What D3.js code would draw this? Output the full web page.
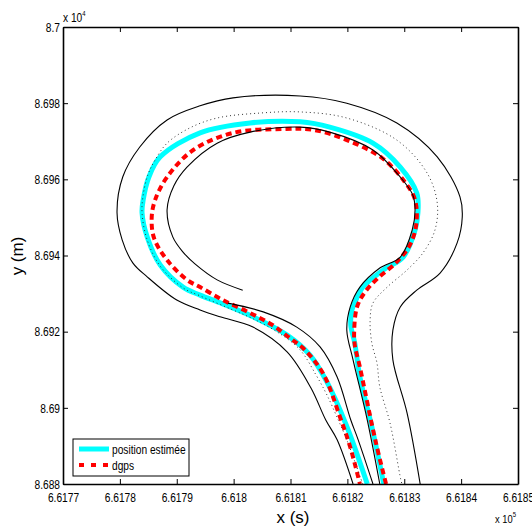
<!DOCTYPE html>
<html>
<head>
<meta charset="utf-8">
<script src="https://cdn.jsdelivr.net/npm/d3@7"></script>
<style>
  html, body { margin: 0; padding: 0; background: #fff; }
  svg { display: block; font-family: "Liberation Sans", Arial, Helvetica, sans-serif; }
</style>
</head>
<body>
<div id="chart"></div>
<script>
// ---------- data (x in m, y in m) ----------
const xTicks = [661770, 661780, 661790, 661800, 661810, 661820, 661830, 661840, 661850];
const xTickLabels = ["6.6177", "6.6178", "6.6179", "6.618", "6.6181", "6.6182", "6.6183", "6.6184", "6.6185"];
const yTicks = [86880, 86900, 86920, 86940, 86960, 86980, 87000];
const yTickLabels = ["8.688", "8.69", "8.692", "8.694", "8.696", "8.698", "8.7"];

const seriesNames = ["position estimée", "dgps"];

// estimated position (cyan)
const estimatedPos = [[661826.4,86880.0],[661824.3,86895.0],[661822.2,86908.1],[661821.3,86917.0],[661820.6,86921.7],[661820.8,86925.7],[661821.5,86928.3],[661822.7,86931.7],[661826.3,86936.2],[661829.8,86939.6],[661831.9,86946.7],[661832.4,86951.2],[661832.2,86956.4],[661829.3,86963.2],[661824.5,86969.5],[661816.9,86973.7],[661811.7,86975.1],[661802.9,86974.8],[661794.1,86972.2],[661787.1,86965.9],[661785.1,86960.6],[661784.1,86954.6],[661783.9,86951.2],[661784.8,86944.9],[661787.1,86937.5],[661791.1,86931.7],[661794.1,86929.6],[661798.1,86927.3],[661803.4,86923.9],[661809.4,86919.1],[661813.4,86913.9],[661816.4,86906.8],[661819.8,86895.5],[661823.5,86880.0]];

// dgps (red dashed)
const dgps = [[661826.8,86880.0],[661824.9,86891.6],[661822.2,86910.7],[661821.3,86916.5],[661821.2,86920.4],[661821.7,86926.5],[661823.1,86930.4],[661825.4,86934.1],[661828.7,86938.3],[661831.0,86942.8],[661832.1,86948.0],[661831.9,86954.6],[661830.1,86959.3],[661826.1,86965.6],[661819.9,86970.3],[661814.0,86973.0],[661808.7,86973.2],[661799.9,86972.2],[661792.9,86967.7],[661788.3,86960.6],[661786.2,86954.6],[661785.6,86950.1],[661786.0,86944.6],[661788.3,86938.8],[661791.8,86933.6],[661794.1,86931.7],[661798.1,86928.3],[661802.9,86924.9],[661806.9,86921.7],[661809.9,86918.3],[661812.2,86915.7],[661815.7,86909.1],[661818.7,86897.6],[661820.5,86889.7],[661822.2,86880.0]];

// road outer boundary (black)
const roadOuter = [[661821.0,86880.0],[661818.2,86891.6],[661816.2,86896.8],[661813.6,86905.2],[661809.4,86914.7],[661803.4,86921.2],[661797.6,86923.9],[661794.1,86925.7],[661790.0,86928.3],[661784.8,86934.4],[661782.3,86938.0],[661780.4,86944.1],[661779.5,86951.2],[661780.5,86960.6],[661783.5,86968.5],[661788.3,86975.6],[661794.1,86979.3],[661799.9,86981.4],[661811.7,86981.9],[661819.9,86980.0],[661828.7,86974.8],[661835.8,86965.9],[661839.8,86955.4],[661840.2,86950.1],[661839.3,86943.3],[661836.3,86935.4],[661832.2,86930.9],[661829.3,86926.5],[661828.0,86920.4],[661828.0,86912.6],[661830.5,86898.6],[661832.8,86880.0]];

// road inner boundary around the loop (black)
const roadInner = [[661825.7,86880.0],[661823.5,86896.8],[661821.0,86912.6],[661819.9,86920.4],[661820.5,86926.5],[661822.2,86931.7],[661825.7,86936.7],[661829.3,86939.6],[661831.4,86946.7],[661831.9,86952.0],[661831.5,86955.9],[661829.3,86960.6],[661824.5,86967.7],[661816.9,86972.4],[661811.7,86973.7],[661802.9,86972.4],[661797.1,86969.5],[661791.8,86963.2],[661789.5,86958.3],[661788.3,86952.0],[661789.3,86944.9],[661791.1,86940.9],[661793.2,86937.8],[661797.1,86933.6],[661801.6,86930.9]];

// road inner boundary of the entry branch (black)
const roadEntry = [[661799.0,86927.5],[661805.2,86925.2],[661811.1,86921.2],[661815.2,86916.0],[661818.2,86908.1],[661820.6,86896.8],[661821.9,86891.6],[661824.5,86880.0]];

// road centre line (dotted)
const roadCentre = [[661822.7,86880.0],[661819.9,86891.6],[661818.4,86896.8],[661816.4,86903.4],[661814.5,86908.6],[661811.7,86915.2],[661808.2,86919.4],[661803.8,86923.1],[661799.4,86926.0],[661794.1,86929.4],[661791.1,86931.5],[661787.1,86937.2],[661784.8,86944.1],[661783.9,86951.2],[661784.1,86955.9],[661784.9,86961.1],[661786.2,86965.1],[661788.3,86969.5],[661792.3,86973.5],[661797.1,86976.1],[661804.6,86977.4],[661811.7,86977.7],[661819.9,86976.1],[661828.7,86970.3],[661834.0,86961.7],[661835.8,86953.8],[661835.4,86946.7],[661833.3,86940.7],[661830.5,86936.2],[661827.0,86931.7],[661824.5,86927.5],[661824.0,86923.1],[661824.3,86917.0],[661825.2,86911.8],[661825.7,86905.5],[661827.5,86896.0],[661829.4,86881.1],[661829.6,86880.0]];

// ---------- layout ----------
const W = 532, H = 527;
const L = 63, R = 518, T = 27, B = 484;
const SX = 0.85; // horizontal squeeze of the small texts

const svg = d3.select("#chart").append("svg").attr("width", W).attr("height", H);

const x = d3.scaleLinear().domain([661770, 661850]).range([L, R]);
const y = d3.scaleLinear().domain([86880, 87000]).range([B, T]);

svg.append("defs").append("clipPath").attr("id", "clip")
  .append("rect").attr("x", L).attr("y", T).attr("width", R - L).attr("height", B - T);

const line = d3.line().x(d => x(d[0])).y(d => y(d[1])).curve(d3.curveCatmullRom.alpha(0.5));

const plot = svg.append("g").attr("clip-path", "url(#clip)");

plot.append("path").datum(estimatedPos).attr("d", line)
  .attr("fill", "none").attr("stroke", "#00ffff").attr("stroke-width", 5);
plot.append("path").datum(dgps).attr("d", line)
  .attr("fill", "none").attr("stroke", "#ff0000").attr("stroke-width", 4).attr("stroke-dasharray", "6,4");
[roadOuter, roadInner, roadEntry].forEach(s => {
  plot.append("path").datum(s).attr("d", line)
    .attr("fill", "none").attr("stroke", "#000").attr("stroke-width", 1.1);
});
plot.append("path").datum(roadCentre).attr("d", line)
  .attr("fill", "none").attr("stroke", "#333").attr("stroke-width", 1).attr("stroke-dasharray", "1,3");

// ---------- axes ----------
function styleAxis(g) {
  g.select(".domain").attr("stroke", "#000").attr("stroke-width", 1.6);
  g.selectAll(".tick line").attr("stroke", "#000").attr("stroke-width", 1);
  g.selectAll("text").attr("fill", "#000").attr("font-size", 12)
    .attr("font-family", '"Liberation Sans", Arial, sans-serif');
}

const xAxis = svg.append("g").attr("transform", `translate(0,${B})`)
  .call(d3.axisBottom(x).tickValues(xTicks).tickFormat((d, i) => xTickLabels[i])
    .tickSizeInner(-5).tickSizeOuter(0).tickPadding(9));
styleAxis(xAxis);
xAxis.selectAll("text").attr("transform", `scale(${SX},1)`);

const yAxis = svg.append("g").attr("transform", `translate(${L},0)`)
  .call(d3.axisLeft(y).tickValues(yTicks).tickFormat((d, i) => yTickLabels[i])
    .tickSizeInner(-5).tickSizeOuter(0).tickPadding(3));
styleAxis(yAxis);
yAxis.selectAll("text").attr("x", -3 / SX).attr("dy", "0.36em").attr("transform", `scale(${SX},1)`);

const xTop = svg.append("g").attr("transform", `translate(0,${T})`)
  .call(d3.axisTop(x).tickValues(xTicks).tickFormat("").tickSizeInner(-5).tickSizeOuter(0));
styleAxis(xTop);
const yRight = svg.append("g").attr("transform", `translate(${R},0)`)
  .call(d3.axisRight(y).tickValues(yTicks).tickFormat("").tickSizeInner(-5).tickSizeOuter(0));
styleAxis(yRight);

// exponent labels
const e4 = svg.append("text").attr("transform", `translate(63,22) scale(${SX},1)`)
  .attr("font-size", 12).attr("fill", "#000");
e4.append("tspan").text("x 10");
e4.append("tspan").attr("font-size", 7).attr("dy", -6).text("4");

const e5 = svg.append("text").attr("transform", `translate(495,523) scale(${SX},1)`)
  .attr("font-size", 11).attr("fill", "#000");
e5.append("tspan").text("x 10");
e5.append("tspan").attr("font-size", 7).attr("dy", -6).text("5");

// axis titles
svg.append("text").attr("x", 293).attr("y", 523).attr("text-anchor", "middle")
  .attr("font-size", 17).attr("fill", "#000").text("x (s)");
svg.append("text").attr("transform", "translate(23,256) rotate(-90)").attr("text-anchor", "middle")
  .attr("font-size", 17).attr("fill", "#000").text("y (m)");

// ---------- legend ----------
const leg = svg.append("g");
leg.append("rect").attr("x", 73).attr("y", 439).attr("width", 116).attr("height", 37)
  .attr("fill", "#fff").attr("stroke", "#000").attr("stroke-width", 1);
const legStyles = [
  { stroke: "#00ffff", width: 5, dash: null },
  { stroke: "#ff0000", width: 4, dash: "5,7" }
];
seriesNames.forEach((name, i) => {
  const yy = 449 + i * 16;
  leg.append("line").attr("x1", 79).attr("x2", 109).attr("y1", yy).attr("y2", yy)
    .attr("stroke", legStyles[i].stroke).attr("stroke-width", legStyles[i].width)
    .attr("stroke-dasharray", legStyles[i].dash);
  leg.append("text").attr("transform", `translate(112,${yy + 5}) scale(${SX},1)`)
    .attr("font-size", 12).attr("fill", "#000").text(name);
});
</script>
</body>
</html>
